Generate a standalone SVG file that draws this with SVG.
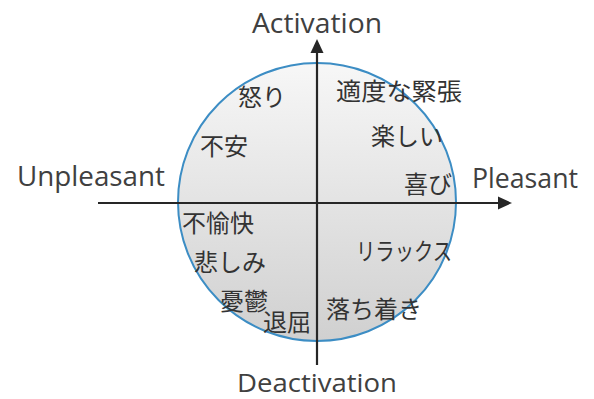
<svg xmlns="http://www.w3.org/2000/svg" width="594" height="399" viewBox="0 0 594 399">
<defs>
<linearGradient id="g" x1="0" y1="0" x2="0" y2="1">
<stop offset="0" stop-color="#f7f7f7"/>
<stop offset="1" stop-color="#d0d0d0"/>
</linearGradient>
<style>
.ax{stroke:#262626;stroke-width:2.2;fill:none}
.lbl{font-family:"Open Sans","Liberation Sans",sans-serif;font-size:27.5px;fill:#404040}
.jp{font-family:"Noto Sans CJK JP",sans-serif;font-size:24px;fill:#333333}
</style>
</defs>
<rect width="594" height="399" fill="#ffffff"/>
<g id="circle">
<circle cx="317" cy="202" r="139" fill="url(#g)" stroke="#3c8dc4" stroke-width="2"/>
</g>
<g id="connectors">
<line class="ax" x1="98" y1="203" x2="500" y2="203"/>
<path d="M512,203 L498,196.5 L498,209.5 z" fill="#262626"/>
<line class="ax" x1="317" y1="365" x2="317" y2="52"/>
<path d="M317,39 L310.5,53 L323.5,53 z" fill="#262626"/>
</g>
<g id="axis-labels">
<text class="lbl" x="252" y="33" textLength="130" lengthAdjust="spacingAndGlyphs">Activation</text>
<text class="lbl" x="237" y="392" style="font-size:26px" textLength="160" lengthAdjust="spacingAndGlyphs">Deactivation</text>
<text class="lbl" x="17" y="186" textLength="148" lengthAdjust="spacingAndGlyphs">Unpleasant</text>
<text class="lbl" x="472" y="188" textLength="106" lengthAdjust="spacingAndGlyphs">Pleasant</text>
</g>
<g id="n-ikari"><text class="jp" x="238" y="106">怒り</text></g>
<g id="n-tekido"><text class="jp" x="336" y="100" textLength="126" lengthAdjust="spacingAndGlyphs">適度な緊張</text></g>
<g id="n-fuan"><text class="jp" x="200" y="155">不安</text></g>
<g id="n-tanoshii"><text class="jp" x="371" y="145">楽しい</text></g>
<g id="n-yorokobi"><text class="jp" x="404" y="193">喜び</text></g>
<g id="n-fuyukai"><text class="jp" x="182" y="232">不愉快</text></g>
<g id="n-kanashimi"><text class="jp" x="194" y="271">悲しみ</text></g>
<g id="n-yuuutsu"><text class="jp" x="220" y="310">憂鬱</text></g>
<g id="n-taikutsu"><text class="jp" x="263" y="331">退屈</text></g>
<g id="n-relax"><text class="jp" x="356" y="260" textLength="96" lengthAdjust="spacingAndGlyphs">リラックス</text></g>
<g id="n-ochitsuki"><text class="jp" x="326" y="318">落ち着き</text></g>
</svg>
